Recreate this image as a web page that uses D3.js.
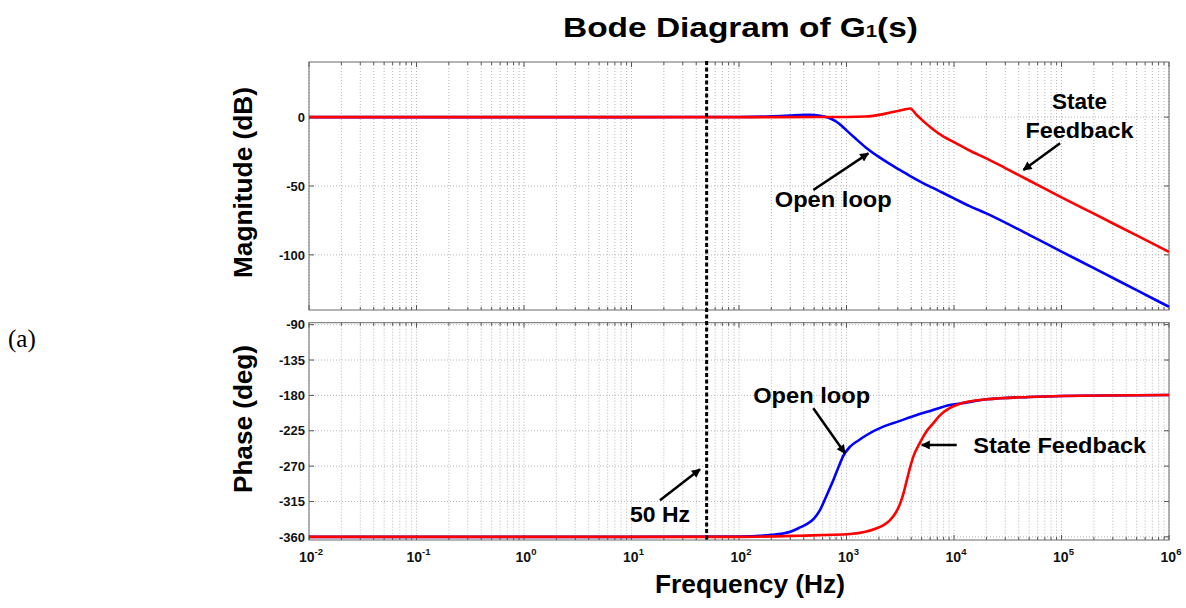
<!DOCTYPE html>
<html><head><meta charset="utf-8">
<script src="https://cdn.jsdelivr.net/npm/d3@7"></script>
<style>body{margin:0;background:#fff;} svg{display:block;}</style>
</head><body><svg id="c" width="1186" height="608"></svg>
<script>
// ---------- data ----------
const magFreqOpen = [0.01, 1, 10, 100, 200, 300, 370, 450, 550, 630, 700, 800, 900, 1000, 1200, 1500, 2000, 2500, 3000, 3500, 4000, 5000, 7000, 10000, 14000, 20000, 50000, 100000, 200000, 500000, 1000000];
const magOpen     = [0, 0, 0, 0.1, 0.5, 1.1, 1.5, 1.6, 1.2, 0.3, -0.8, -3.2, -6.3, -9.6, -15.2, -21.8, -28.9, -33.8, -37.5, -40.5, -43.2, -47.4, -53, -59, -64.6, -69.9, -85.5, -97.6, -109.6, -125.6, -137.7];
const magFreqSF   = [0.01, 1, 10, 100, 500, 1000, 1500, 2000, 2500, 3000, 3500, 3900, 4500, 5000, 6000, 7000, 8000, 10000, 15000, 20000, 30000, 50000, 100000, 200000, 500000, 1000000];
const magSF       = [0, 0, 0, 0, 0.05, 0.1, 0.4, 1.6, 3.1, 4.4, 5.6, 6.3, 1.5, -1.8, -7.2, -11.2, -14.2, -18.2, -25.5, -29.9, -37, -46, -58.2, -70.1, -85.9, -97.8];
const phFreqOpen  = [0.01, 1, 10, 100, 200, 300, 370, 430, 500, 566, 650, 753, 850, 933, 1079, 1300, 1542, 2198, 3000, 4498, 6000, 9180, 11380, 20000, 50000, 100000, 1000000];
const phOpen      = [-360, -360, -360, -359.5, -357.5, -353.5, -348, -343.5, -336.5, -326, -308, -288, -270, -257, -245.3, -237, -230.4, -219.8, -213.4, -204.9, -199.8, -192.2, -190.3, -185, -182, -180.8, -179.5];
const phFreqSF    = [0.01, 1, 10, 100, 369, 1079, 1500, 1910, 2250, 2541, 2850, 3147, 3400, 3631, 3900, 4183, 4826, 5600, 6412, 7400, 9180, 11380, 20000, 50000, 100000, 1000000];
const phSF        = [-360, -360, -360, -360, -358.5, -356.4, -353.6, -349.1, -344.5, -338.6, -330, -318, -304, -288.5, -272, -258, -240, -225, -215.5, -205.5, -196, -190.6, -185, -182, -180.8, -179.5];
const markerFreq = 50;
const xTickExps = [-2, -1, 0, 1, 2, 3, 4, 5, 6];
const magTicks = [0, -50, -100];
const phaseTicks = [-90, -135, -180, -225, -270, -315, -360];
const magDomain = [-140, 40];
const phaseDomain = [-364, -87.5];
const freqDomain = [0.01, 1e6];

// annotations in data coordinates
const magNotes = [
  {text: "State", f: 1.47e5, v: 5.7, anchor: "middle", len: 55},
  {text: "Feedback", f: 1.47e5, v: -15.4, anchor: "middle", len: 108},
  {text: "Open loop", f: 753, v: -65.5, anchor: "middle", len: 117}
];
const magArrows = [
  {f1: 9.7e4, v1: -19, f2: 4.42e4, v2: -38.4},
  {f1: 491, v1: -52.9, f2: 1596, v2: -26.3}
];
const phNotes = [
  {text: "Open loop", f: 474, v: -190.1, anchor: "middle", len: 117},
  {text: "State Feedback", f: 15100, v: -252.9, anchor: "start", len: 173},
  {text: "50 Hz", f: 9.69, v: -340.7, anchor: "start", len: 60}
];
const phArrows = [
  {f1: 491, v1: -196.4, f2: 968, v2: -253.7},
  {f1: 10600, v1: -243.1, f2: 5010, v2: -243.1},
  {f1: 18.4, v1: -313.3, f2: 43.4, v2: -274}
];

// ---------- layout ----------
const L = 309, R = 1169;
const top1 = 62, bot1 = 310, top2 = 322.7, bot2 = 540;
const FONT = "'Liberation Sans', Arial, sans-serif";

const svg = d3.select("#c");
const x = d3.scaleLog().domain(freqDomain).range([L, R]);
const yM = d3.scaleLinear().domain(magDomain).range([bot1, top1]);
const yP = d3.scaleLinear().domain(phaseDomain).range([bot2, top2]);

const defs = svg.append("defs");
defs.append("marker").attr("id", "arr").attr("viewBox", "0 0 10 10")
  .attr("refX", 9).attr("refY", 5).attr("markerWidth", 4.2).attr("markerHeight", 3.6)
  .attr("markerUnits", "strokeWidth").attr("orient", "auto")
  .append("path").attr("d", "M0,0 L10,5 L0,10 Z").attr("fill", "#000");
defs.append("clipPath").attr("id", "cp1").append("rect").attr("x", L).attr("y", top1).attr("width", R - L).attr("height", bot1 - top1);
defs.append("clipPath").attr("id", "cp2").append("rect").attr("x", L).attr("y", top2).attr("width", R - L).attr("height", bot2 - top2);

const minorX = [];
for (let e = -2; e < 6; e++) for (let k = 2; k <= 9; k++) minorX.push(k * Math.pow(10, e));
const majorX = xTickExps.map(e => Math.pow(10, e));

function panel(y, t, b, yTicks) {
  const g = svg.append("g");
  g.selectAll(".vg").data(majorX.concat(minorX)).join("line")
    .attr("x1", d => x(d)).attr("x2", d => x(d)).attr("y1", t).attr("y2", b)
    .attr("stroke", "#b8b8b8").attr("stroke-width", 1).attr("stroke-dasharray", "1,2");
  g.selectAll(".hg").data(yTicks).join("line")
    .attr("x1", L).attr("x2", R).attr("y1", d => y(d)).attr("y2", d => y(d))
    .attr("stroke", "#b8b8b8").attr("stroke-width", 1).attr("stroke-dasharray", "1,2");
  const tk = g.append("g").attr("stroke", "#555").attr("stroke-width", 1);
  majorX.concat(minorX).forEach(d => {
    const len = majorX.includes(d) ? 5 : 3;
    tk.append("line").attr("x1", x(d)).attr("x2", x(d)).attr("y1", b).attr("y2", b - len);
    tk.append("line").attr("x1", x(d)).attr("x2", x(d)).attr("y1", t).attr("y2", t + len);
  });
  yTicks.forEach(d => {
    tk.append("line").attr("x1", L).attr("x2", L + 5).attr("y1", y(d)).attr("y2", y(d));
    tk.append("line").attr("x1", R).attr("x2", R - 5).attr("y1", y(d)).attr("y2", y(d));
  });
  g.selectAll(".yl").data(yTicks).join("text")
    .attr("x", L - 4).attr("y", d => y(d)).attr("dy", "0.36em")
    .attr("text-anchor", "end").attr("font-family", FONT).attr("font-weight", "bold")
    .attr("font-size", 13).attr("fill", "#111").text(d => d);
  g.append("rect").attr("x", L).attr("y", t).attr("width", R - L).attr("height", b - t)
    .attr("fill", "none").attr("stroke", "#6a6a6a").attr("stroke-width", 1);
  return g;
}

panel(yM, top1, bot1, magTicks);
panel(yP, top2, bot2, phaseTicks);

function drawLine(freqs, vals, y, color, clipId) {
  const line = d3.line().x(d => x(d[0])).y(d => y(d[1])).curve(d3.curveMonotoneX);
  svg.append("path").attr("clip-path", `url(#${clipId})`)
    .attr("d", line(freqs.map((f, i) => [f, vals[i]])))
    .attr("fill", "none").attr("stroke", color).attr("stroke-width", 2.6)
    .attr("stroke-linejoin", "round");
}
drawLine(magFreqOpen, magOpen, yM, "#0000ff", "cp1");
drawLine(magFreqSF, magSF, yM, "#ff0000", "cp1");
drawLine(phFreqOpen, phOpen, yP, "#0000ff", "cp2");
drawLine(phFreqSF, phSF, yP, "#ff0000", "cp2");

// 50 Hz marker
svg.append("line").attr("x1", x(markerFreq)).attr("x2", x(markerFreq))
  .attr("y1", top1 - 1).attr("y2", bot2 + 1)
  .attr("stroke", "#000").attr("stroke-width", 3).attr("stroke-dasharray", "4,2.5");

// x tick labels
const xl = svg.selectAll(".xl").data(xTickExps).join("text")
  .attr("x", d => x(Math.pow(10, d)) + 2).attr("y", 562)
  .attr("text-anchor", "middle").attr("font-family", FONT).attr("font-weight", "bold")
  .attr("font-size", 14).attr("fill", "#111");
xl.append("tspan").text("10");
xl.append("tspan").attr("dy", -7).attr("font-size", 9.5).text(d => d);

// annotations
function notes(list, y) {
  list.forEach(n => {
    svg.append("text").attr("x", x(n.f)).attr("y", y(n.v))
      .attr("text-anchor", n.anchor).attr("font-family", FONT).attr("font-weight", "bold")
      .attr("font-size", 22).attr("fill", "#000")
      .attr("textLength", n.len).attr("lengthAdjust", "spacingAndGlyphs").text(n.text);
  });
}
function arrows(list, y) {
  list.forEach(a => {
    svg.append("line").attr("x1", x(a.f1)).attr("y1", y(a.v1)).attr("x2", x(a.f2)).attr("y2", y(a.v2))
      .attr("stroke", "#000").attr("stroke-width", 2.5).attr("marker-end", "url(#arr)");
  });
}
notes(magNotes, yM); arrows(magArrows, yM);
notes(phNotes, yP); arrows(phArrows, yP);

// titles and labels
const title = svg.append("text").attr("x", 740.5).attr("y", 37).attr("text-anchor", "middle")
  .attr("font-family", FONT).attr("font-weight", "bold").attr("font-size", 28).attr("fill", "#000")
  .attr("textLength", 355).attr("lengthAdjust", "spacingAndGlyphs");
title.append("tspan").text("Bode Diagram of G");
title.append("tspan").attr("font-size", 17).text("1");
title.append("tspan").attr("font-size", 28).text("(s)");

svg.append("text").attr("transform", "translate(251.5,182.5) rotate(-90)").attr("text-anchor", "middle")
  .attr("font-family", FONT).attr("font-weight", "bold").attr("font-size", 25).attr("fill", "#000")
  .attr("textLength", 191).attr("lengthAdjust", "spacingAndGlyphs").text("Magnitude (dB)");
svg.append("text").attr("transform", "translate(251.5,419) rotate(-90)").attr("text-anchor", "middle")
  .attr("font-family", FONT).attr("font-weight", "bold").attr("font-size", 25).attr("fill", "#000")
  .attr("textLength", 148).attr("lengthAdjust", "spacingAndGlyphs").text("Phase (deg)");
svg.append("text").attr("x", 750).attr("y", 593).attr("text-anchor", "middle")
  .attr("font-family", FONT).attr("font-weight", "bold").attr("font-size", 25).attr("fill", "#000")
  .attr("textLength", 190).attr("lengthAdjust", "spacingAndGlyphs").text("Frequency (Hz)");

svg.append("text").attr("x", 8).attr("y", 347).attr("font-family", "'Liberation Serif', 'Times New Roman', serif")
  .attr("font-size", 25).attr("fill", "#000").text("(a)");
</script></body></html>
